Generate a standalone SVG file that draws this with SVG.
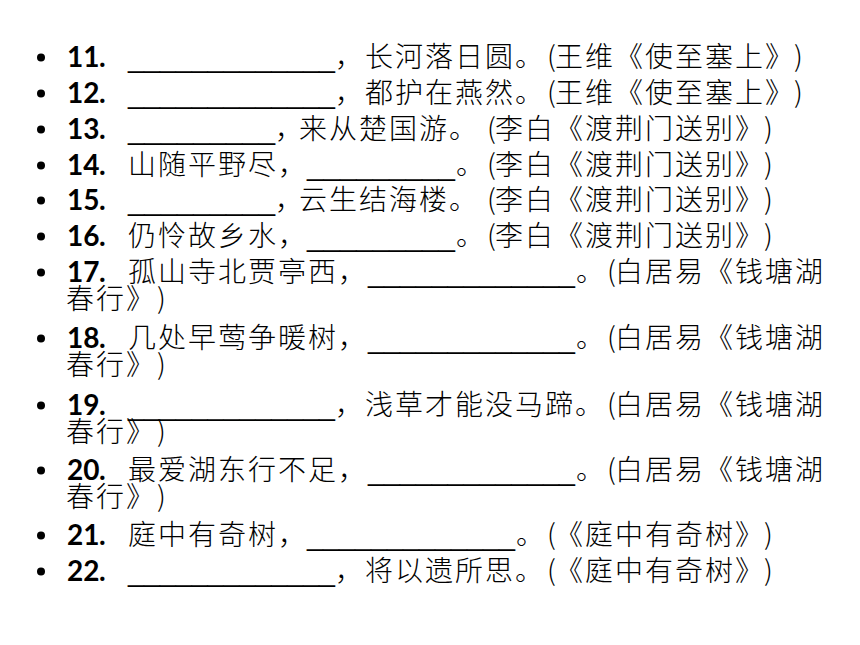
<svg xmlns="http://www.w3.org/2000/svg" width="860" height="645" viewBox="0 0 860 645">
<style>
.n{font-family:Lato,"Liberation Sans",sans-serif;font-weight:700;font-size:28px;fill:#000}
.c{font-family:"Noto Sans CJK SC","Noto Sans CJK TC",sans-serif;font-weight:300;font-size:28px;fill:#000}
.s{letter-spacing:2px}
.u{font-family:"Liberation Sans",sans-serif;font-size:28px;fill:#000}
.b{fill:#000}
</style>
<rect width="860" height="645" fill="#fff"/>

<g id="item11">
<circle class="b" cx="41" cy="57.5" r="4"/>
<text class="n" y="67"><tspan x="67">11</tspan><tspan x="99">.</tspan></text>
<text class="u" x="128" y="67" textLength="207" lengthAdjust="spacingAndGlyphs">_____________</text>
<text class="c" y="67"><tspan x="335">，</tspan><tspan class="s" x="365">长河落日圆。</tspan><tspan x="547">(</tspan><tspan class="s" x="555">王维《使至塞上》</tspan><tspan x="794">)</tspan></text>
</g>

<g id="item12">
<circle class="b" cx="41" cy="93.5" r="4"/>
<text class="n" y="103"><tspan x="67">12</tspan><tspan x="99">.</tspan></text>
<text class="u" x="128" y="103" textLength="207" lengthAdjust="spacingAndGlyphs">_____________</text>
<text class="c" y="103"><tspan x="335">，</tspan><tspan class="s" x="365">都护在燕然。</tspan><tspan x="547">(</tspan><tspan class="s" x="555">王维《使至塞上》</tspan><tspan x="794">)</tspan></text>
</g>

<g id="item13">
<circle class="b" cx="41" cy="129.5" r="4"/>
<text class="n" y="139"><tspan x="67">13</tspan><tspan x="99">.</tspan></text>
<text class="u" x="128" y="139" textLength="147" lengthAdjust="spacingAndGlyphs">_________</text>
<text class="c" y="139"><tspan x="275">，</tspan><tspan class="s" x="299">来从楚国游。</tspan><tspan x="487">(</tspan><tspan class="s" x="495">李白《渡荆门送别》</tspan><tspan x="764">)</tspan></text>
</g>

<g id="item14">
<circle class="b" cx="41" cy="165.5" r="4"/>
<text class="n" y="175"><tspan x="67">14</tspan><tspan x="99">.</tspan></text>
<text class="c" y="175"><tspan class="s" x="128">山随平野尽</tspan><tspan x="278">，</tspan></text>
<text class="u" x="307" y="175" textLength="148" lengthAdjust="spacingAndGlyphs">_________</text>
<text class="c" y="175"><tspan x="456">。</tspan><tspan x="487">(</tspan><tspan class="s" x="495">李白《渡荆门送别》</tspan><tspan x="764">)</tspan></text>
</g>

<g id="item15">
<circle class="b" cx="41" cy="200.5" r="4"/>
<text class="n" y="210"><tspan x="67">15</tspan><tspan x="99">.</tspan></text>
<text class="u" x="128" y="210" textLength="147" lengthAdjust="spacingAndGlyphs">_________</text>
<text class="c" y="210"><tspan x="275">，</tspan><tspan class="s" x="299">云生结海楼。</tspan><tspan x="487">(</tspan><tspan class="s" x="495">李白《渡荆门送别》</tspan><tspan x="764">)</tspan></text>
</g>

<g id="item16">
<circle class="b" cx="41" cy="236.5" r="4"/>
<text class="n" y="246"><tspan x="67">16</tspan><tspan x="99">.</tspan></text>
<text class="c" y="246"><tspan class="s" x="128">仍怜故乡水</tspan><tspan x="278">，</tspan></text>
<text class="u" x="307" y="246" textLength="148" lengthAdjust="spacingAndGlyphs">_________</text>
<text class="c" y="246"><tspan x="456">。</tspan><tspan x="487">(</tspan><tspan class="s" x="495">李白《渡荆门送别》</tspan><tspan x="764">)</tspan></text>
</g>

<g id="item17">
<circle class="b" cx="41" cy="272.5" r="4"/>
<text class="n" y="282"><tspan x="67">17</tspan><tspan x="99">.</tspan></text>
<text class="c" y="282"><tspan class="s" x="128">孤山寺北贾亭西</tspan><tspan x="338">，</tspan></text>
<text class="u" x="368" y="282" textLength="207" lengthAdjust="spacingAndGlyphs">_____________</text>
<text class="c" y="282"><tspan x="576">。</tspan><tspan x="607">(</tspan><tspan class="s" x="615">白居易《钱塘湖</tspan></text>
<text class="c" y="309"><tspan class="s" x="66">春行》</tspan><tspan x="157">)</tspan></text>
</g>

<g id="item18">
<circle class="b" cx="41" cy="338.5" r="4"/>
<text class="n" y="348"><tspan x="67">18</tspan><tspan x="99">.</tspan></text>
<text class="c" y="348"><tspan class="s" x="128">几处早莺争暖树</tspan><tspan x="338">，</tspan></text>
<text class="u" x="368" y="348" textLength="207" lengthAdjust="spacingAndGlyphs">_____________</text>
<text class="c" y="348"><tspan x="576">。</tspan><tspan x="607">(</tspan><tspan class="s" x="615">白居易《钱塘湖</tspan></text>
<text class="c" y="375"><tspan class="s" x="66">春行》</tspan><tspan x="157">)</tspan></text>
</g>

<g id="item19">
<circle class="b" cx="41" cy="405.5" r="4"/>
<text class="n" y="415"><tspan x="67">19</tspan><tspan x="99">.</tspan></text>
<text class="u" x="128" y="415" textLength="207" lengthAdjust="spacingAndGlyphs">_____________</text>
<text class="c" y="415"><tspan x="335">，</tspan><tspan class="s" x="365">浅草才能没马蹄。</tspan><tspan x="607">(</tspan><tspan class="s" x="615">白居易《钱塘湖</tspan></text>
<text class="c" y="442"><tspan class="s" x="66">春行》</tspan><tspan x="157">)</tspan></text>
</g>

<g id="item20">
<circle class="b" cx="41" cy="470.5" r="4"/>
<text class="n" y="480"><tspan x="67">20</tspan><tspan x="99">.</tspan></text>
<text class="c" y="480"><tspan class="s" x="128">最爱湖东行不足</tspan><tspan x="338">，</tspan></text>
<text class="u" x="368" y="480" textLength="207" lengthAdjust="spacingAndGlyphs">_____________</text>
<text class="c" y="480"><tspan x="576">。</tspan><tspan x="607">(</tspan><tspan class="s" x="615">白居易《钱塘湖</tspan></text>
<text class="c" y="507"><tspan class="s" x="66">春行》</tspan><tspan x="157">)</tspan></text>
</g>

<g id="item21">
<circle class="b" cx="41" cy="535.5" r="4"/>
<text class="n" y="545"><tspan x="67">21</tspan><tspan x="99">.</tspan></text>
<text class="c" y="545"><tspan class="s" x="128">庭中有奇树</tspan><tspan x="278">，</tspan></text>
<text class="u" x="307" y="545" textLength="208" lengthAdjust="spacingAndGlyphs">_____________</text>
<text class="c" y="545"><tspan x="516">。</tspan><tspan x="547">(</tspan><tspan class="s" x="555">《庭中有奇树》</tspan><tspan x="764">)</tspan></text>
</g>

<g id="item22">
<circle class="b" cx="41" cy="571.5" r="4"/>
<text class="n" y="581"><tspan x="67">22</tspan><tspan x="99">.</tspan></text>
<text class="u" x="128" y="581" textLength="207" lengthAdjust="spacingAndGlyphs">_____________</text>
<text class="c" y="581"><tspan x="335">，</tspan><tspan class="s" x="365">将以遗所思。</tspan><tspan x="547">(</tspan><tspan class="s" x="555">《庭中有奇树》</tspan><tspan x="764">)</tspan></text>
</g>
</svg>
